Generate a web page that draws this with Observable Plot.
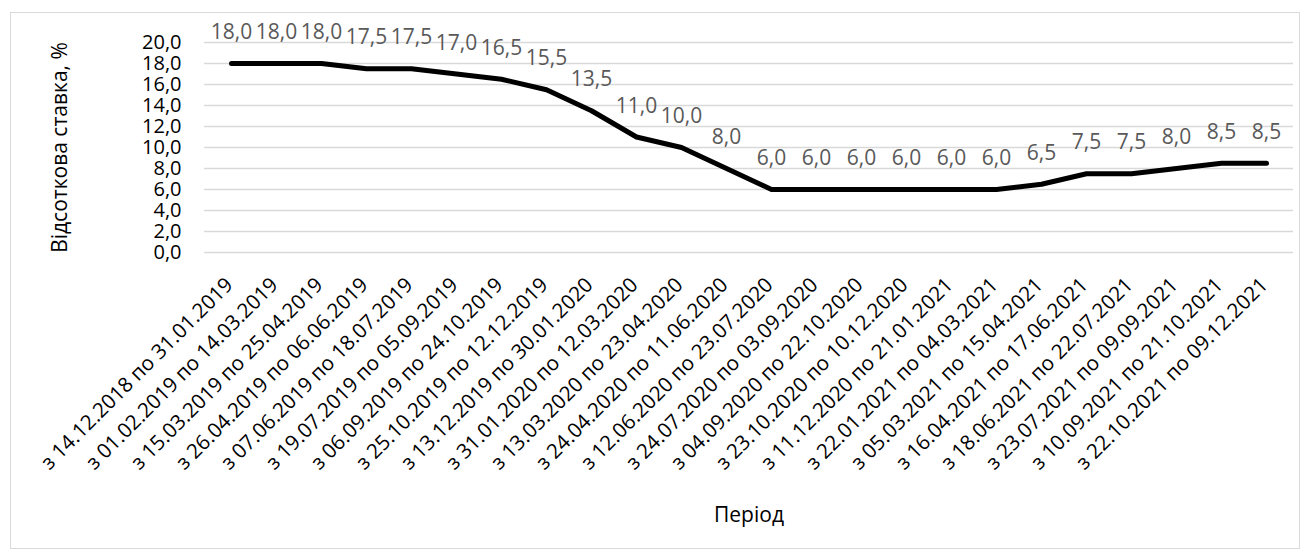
<!DOCTYPE html>
<html><head><meta charset="utf-8">
<script src="https://cdn.jsdelivr.net/npm/d3@7"></script>
<script src="https://cdn.jsdelivr.net/npm/@observablehq/plot@0.6"></script>
<style>
body{margin:0;background:#fff;}
#wrap{position:relative;width:1309px;height:549px;overflow:hidden;}
#border{position:absolute;left:10px;top:12px;width:1288px;height:535px;border:1px solid #d9d9d9;}
#chart{position:absolute;left:0;top:0;}
</style></head><body><div id="wrap"><div id="border"></div><div id="chart"></div></div>
<script>
const periods = [
  "з 14.12.2018 по 31.01.2019",
  "з 01.02.2019 по 14.03.2019",
  "з 15.03.2019 по 25.04.2019",
  "з 26.04.2019 по 06.06.2019",
  "з 07.06.2019 по 18.07.2019",
  "з 19.07.2019 по 05.09.2019",
  "з 06.09.2019 по 24.10.2019",
  "з 25.10.2019 по 12.12.2019",
  "з 13.12.2019 по 30.01.2020",
  "з 31.01.2020 по 12.03.2020",
  "з 13.03.2020 по 23.04.2020",
  "з 24.04.2020 по 11.06.2020",
  "з 12.06.2020 по 23.07.2020",
  "з 24.07.2020 по 03.09.2020",
  "з 04.09.2020 по 22.10.2020",
  "з 23.10.2020 по 10.12.2020",
  "з 11.12.2020 по 21.01.2021",
  "з 22.01.2021 по 04.03.2021",
  "з 05.03.2021 по 15.04.2021",
  "з 16.04.2021 по 17.06.2021",
  "з 18.06.2021 по 22.07.2021",
  "з 23.07.2021 по 09.09.2021",
  "з 10.09.2021 по 21.10.2021",
  "з 22.10.2021 по 09.12.2021"
];
const rates = [18.0, 18.0, 18.0, 17.5, 17.5, 17.0, 16.5, 15.5, 13.5, 11.0, 10.0, 8.0,
               6.0, 6.0, 6.0, 6.0, 6.0, 6.0, 6.5, 7.5, 7.5, 8.0, 8.5, 8.5];
const yTicks = [0, 2, 4, 6, 8, 10, 12, 14, 16, 18, 20];
const yLabel = "Відсоткова ставка, %";
const xLabel = "Період";

const data = periods.map((p, i) => ({period: p, rate: rates[i]}));
const fmt = v => v.toFixed(1).replace(".", ",");

const chart = Plot.plot({
  width: 1309, height: 549,
  marginLeft: 204, marginRight: 16, marginTop: 42, marginBottom: 297,
  style: {fontFamily: "'Open Sans', sans-serif", background: "transparent", color: "#000"},
  x: {type: "point", domain: periods, padding: 0.5},
  y: {domain: [0, 20]},
  marks: [
    Plot.gridY(yTicks, {stroke: "#d9d9d9", strokeOpacity: 1, strokeWidth: 1.5}),
    Plot.axisY({ticks: yTicks, tickFormat: fmt, tickSize: 0, tickPadding: 23, fontSize: 20,
      label: null}),
    Plot.axisX({tickRotate: -45, tickSize: 0, tickPadding: 29, dx: -2, fontSize: 20.6,
      label: null}),
    Plot.text([yLabel], {frameAnchor: "left", dx: -144, rotate: -90, textAnchor: "middle",
      fontSize: 21, fill: "#000"}),
    Plot.text([xLabel], {frameAnchor: "bottom", dy: 269, fontSize: 21, fill: "#000"}),
    Plot.line(data, {x: "period", y: "rate", stroke: "#000", strokeWidth: 5,
      strokeLinecap: "round", strokeLinejoin: "round"}),
    Plot.text(data, {x: "period", y: "rate", text: d => fmt(d.rate), dy: -31,
      fill: "#595959", fontSize: 21})
  ]
});
document.getElementById("chart").appendChild(chart);
</script></body></html>
